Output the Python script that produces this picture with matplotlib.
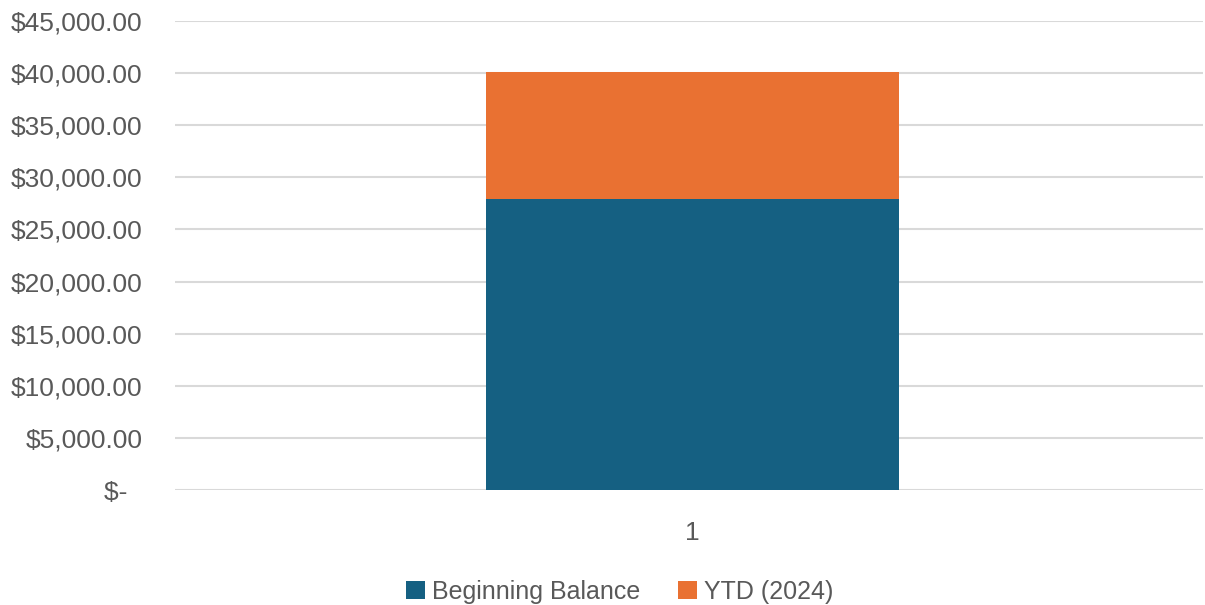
import matplotlib
matplotlib.use("Agg")
import matplotlib.pyplot as plt
from matplotlib.ticker import FuncFormatter

categories = ["1"]
beginning_balance = [27920]
ytd_2024 = [12190]
series_names = ["Beginning Balance", "YTD (2024)"]

plt.rcParams['font.family'] = ['Liberation Sans', 'DejaVu Sans']
TXT = "#595959"
fig = plt.figure(figsize=(12.05, 6.05), dpi=100)
ax = fig.add_axes([175/1205, 1 - 490/605, (1203-175)/1205, (490-21)/605])

x = list(range(len(categories)))
ax.bar(x, beginning_balance, width=0.402, color="#156082", label=series_names[0], zorder=3)
ax.bar(x, ytd_2024, width=0.402, bottom=beginning_balance, color="#E97132", label=series_names[1], zorder=3)

ax.set_xlim(-0.5035, 0.4965)
ax.set_ylim(0, 45000)
ax.set_yticks(range(0, 45001, 5000))

def fmt(v, pos):
    if v == 0:
        return "$-  "
    return "${:,.2f}".format(v)
ax.yaxis.set_major_formatter(FuncFormatter(fmt))
ax.set_xticks(x)
ax.set_xticklabels(categories)
ax.grid(axis='y', color="#D9D9D9", linewidth=1.5, zorder=0)
for s in ["top", "right", "left", "bottom"]:
    ax.spines[s].set_visible(False)
ax.tick_params(axis='both', length=0, labelsize=19, labelcolor=TXT)
ax.tick_params(axis='y', pad=23.5)
ax.tick_params(axis='x', pad=22)

fig.legend(loc='center', bbox_to_anchor=(620/1205, 1 - 592/605), ncol=2, frameon=False,
           fontsize=18, labelcolor=TXT, handlelength=0.75, handleheight=0.75,
           handletextpad=0.3, columnspacing=1.5)

fig.savefig("out.png", dpi=100)
